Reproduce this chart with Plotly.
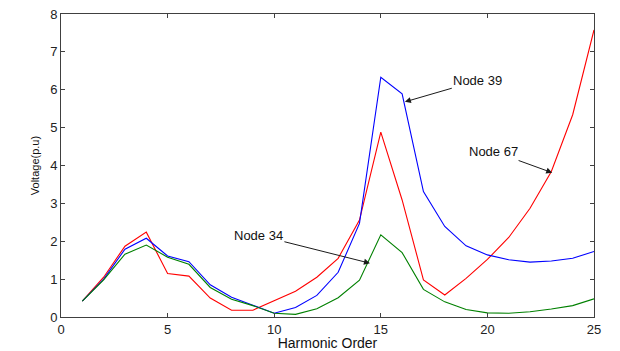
import plotly.graph_objects as go

# Harmonic voltage spectra at three network nodes
harmonic_order = list(range(1, 26))

node_67 = [0.42, 1.05, 1.87, 2.24, 1.15, 1.08, 0.50, 0.18, 0.18, 0.42,
           0.68, 1.05, 1.55, 2.56, 4.88, 3.09, 0.98, 0.58, 1.02, 1.52,
           2.10, 2.87, 3.84, 5.34, 7.58]
node_39 = [0.42, 1.00, 1.79, 2.08, 1.61, 1.46, 0.85, 0.52, 0.31, 0.10,
           0.25, 0.57, 1.18, 2.47, 6.33, 5.89, 3.31, 2.39, 1.88, 1.64,
           1.51, 1.45, 1.48, 1.55, 1.73]
node_34 = [0.42, 0.98, 1.66, 1.90, 1.58, 1.39, 0.78, 0.47, 0.30, 0.10,
           0.07, 0.22, 0.51, 0.97, 2.17, 1.70, 0.73, 0.40, 0.20, 0.11,
           0.10, 0.14, 0.21, 0.30, 0.48]

series = [
    ("Node 67", node_67, "#ff0000"),
    ("Node 39", node_39, "#0000ff"),
    ("Node 34", node_34, "#008000"),
]

fig = go.Figure()
for name, values, color in series:
    fig.add_trace(go.Scatter(
        x=harmonic_order, y=values, mode="lines", name=name,
        line=dict(color=color, width=1.1),
    ))

# Callout labels: (text, text centre x, text centre y, arrow tip x, arrow tip y)
callouts = [
    ("Node 39", 19.55, 6.24, 16.13, 5.68),
    ("Node 67", 20.3, 4.37, 23.04, 3.81),
    ("Node 34", 9.26, 2.16, 14.49, 1.42),
]
for text, tx, ty, px, py in callouts:
    fig.add_annotation(
        x=px, y=py, ax=tx, ay=ty, xref="x", yref="y", axref="x", ayref="y",
        text=text, showarrow=True, arrowhead=2, arrowsize=1.2, arrowwidth=1,
        arrowcolor="#1a1a1a", standoff=0, startstandoff=0,
        font=dict(family="Liberation Sans, Arial, sans-serif", size=13, color="#111111"),
    )

axis_common = dict(
    showgrid=False, zeroline=False, showline=True, linecolor="#404040",
    linewidth=1, mirror="ticks", ticks="inside", ticklen=4, automargin=False,
    tickcolor="#404040", tickfont=dict(family="Liberation Sans, Arial, sans-serif",
                                       size=13, color="#222222"),
)

fig.update_xaxes(
    range=[0, 25], tickvals=[0, 5, 10, 15, 20, 25],
    title=dict(text="Harmonic Order", standoff=1,
               font=dict(family="Liberation Sans, Arial, sans-serif", size=14, color="#111111")),
    **axis_common,
)
fig.update_yaxes(
    range=[0, 8], tickvals=list(range(0, 9)),
    title=dict(text="Voltage(p.u)", standoff=8,
               font=dict(family="Liberation Sans, Arial, sans-serif", size=11, color="#111111")),
    **axis_common,
)

fig.update_layout(
    width=620, height=351,
    margin=dict(l=61, r=26, t=14, b=34),
    paper_bgcolor="white", plot_bgcolor="white",
    showlegend=False,
)

fig.write_html("out.html")
